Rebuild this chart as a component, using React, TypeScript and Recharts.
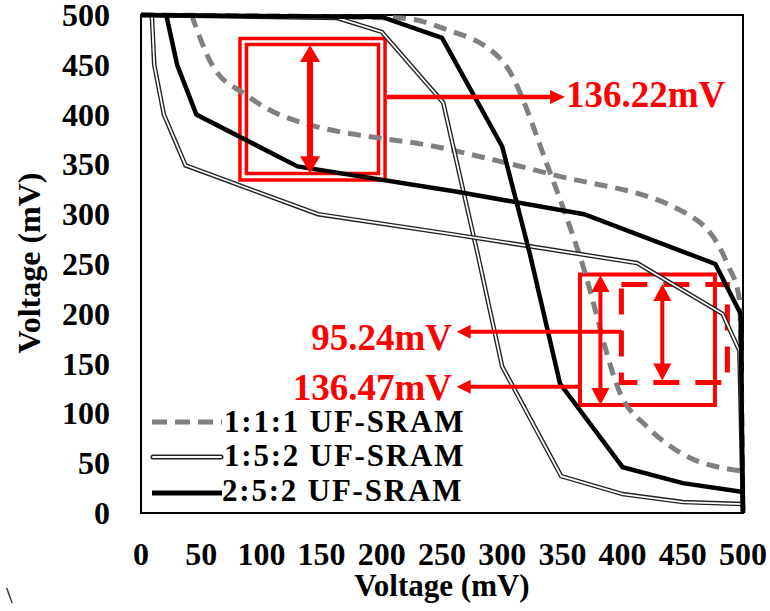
import React from 'react';
import { LineChart, Line, XAxis, YAxis, ReferenceArea, ReferenceLine } from 'recharts';

// axis ticks (mV)
const ticks = [0, 50, 100, 150, 200, 250, 300, 350, 400, 450, 500];

// transfer curve of one inverter per cell: input (mV) -> output (mV)
// the second inverter of the butterfly is the same curve mirrored about y = x
const vin111 = [0, 215, 250, 300, 340, 365, 400, 420, 450, 500];
const vout111 = [500, 497, 487, 454, 341, 256, 115, 87, 59, 42];
const vin152 = [0, 163, 200, 251, 280, 300, 349, 400, 450, 500];
const vout152 = [500, 497, 483, 412, 258, 147, 37, 19, 11, 9];
const vin252 = [0, 200, 250, 300, 323, 348, 400, 450, 500];
const vout252 = [500, 498, 477, 368, 260, 130, 46, 30, 21];

const curve = (vin: number[], vout: number[]) => vin.map((x, i) => ({ x, y: vout[i] }));
const mirror = (vin: number[], vout: number[]) =>
  vin.map((v, i) => ({ x: vout[i], y: v })).sort((a, b) => a.x - b.x);

const RED = '#ff0000';
const FONT = "'Liberation Serif', 'Times New Roman', serif";

// double-headed / single arrow drawn between the reference segment end points
function arrowShape(hw: number, hl: number, sw: number, both: boolean) {
  return (p: any) => {
    const { x1, y1, x2, y2 } = p;
    const dx = x2 - x1;
    const dy = y2 - y1;
    const len = Math.hypot(dx, dy) || 1;
    const ux = dx / len;
    const uy = dy / len;
    const nx = -uy;
    const ny = ux;
    const head = (tx: number, ty: number, dx1: number, dy1: number) => {
      const bx = tx - dx1 * hl;
      const by = ty - dy1 * hl;
      return `${tx},${ty} ${bx + nx * hw / 2},${by + ny * hw / 2} ${bx - nx * hw / 2},${by - ny * hw / 2}`;
    };
    const sx = both ? x1 + ux * hl * 0.8 : x1;
    const sy = both ? y1 + uy * hl * 0.8 : y1;
    return (
      <g>
        <line x1={sx} y1={sy} x2={x2 - ux * hl * 0.8} y2={y2 - uy * hl * 0.8} stroke={RED} strokeWidth={sw} />
        <polygon points={head(x2, y2, ux, uy)} fill={RED} />
        {both && <polygon points={head(x1, y1, -ux, -uy)} fill={RED} />}
      </g>
    );
  };
}

const XTick = ({ x, y, payload }: any) => (
  <text x={x} y={y} dy={22} textAnchor="middle" fontFamily={FONT} fontWeight={700} fontSize={32} fill="#000">
    {payload.value}
  </text>
);

const YTick = ({ x, y, payload }: any) => (
  <text x={x} y={y} dy={11} textAnchor="end" fontFamily={FONT} fontWeight={700} fontSize={32} fill="#000">
    {payload.value}
  </text>
);

export default function App() {
  return (
    <div style={{ position: 'absolute', left: 0, top: 0, width: 770, height: 611, background: '#fff', fontFamily: FONT }}>
      <LineChart width={770} height={611} margin={{ top: 15, right: 27, bottom: 38, left: 0 }} style={{ fontFamily: FONT }}>
        <XAxis
          type="number"
          dataKey="x"
          domain={[0, 500]}
          ticks={ticks}
          interval={0}
          tick={<XTick />}
          tickSize={0}
          tickMargin={30}
          axisLine={false}
          height={60}
        />
        <YAxis
          type="number"
          dataKey="y"
          domain={[0, 500]}
          ticks={ticks}
          interval={0}
          tick={<YTick />}
          tickSize={0}
          tickMargin={31}
          axisLine={false}
          width={141}
        />
        <ReferenceArea x1={0} x2={500} y1={0} y2={500} fill="none" stroke="#000" strokeWidth={2} />

        {/* 1:1:1 UF-SRAM */}
        <Line data={curve(vin111, vout111)} dataKey="y" type="monotone" stroke="#808080" strokeWidth={5} strokeDasharray="13 8" dot={false} isAnimationActive={false} />
        <Line data={mirror(vin111, vout111)} dataKey="y" type="monotone" stroke="#808080" strokeWidth={5} strokeDasharray="13 8" dot={false} isAnimationActive={false} />

        {/* 1:5:2 UF-SRAM (double line) */}
        <Line data={curve(vin152, vout152)} dataKey="y" type="linear" stroke="#222" strokeWidth={4.5} dot={false} isAnimationActive={false} />
        <Line data={curve(vin152, vout152)} dataKey="y" type="linear" stroke="#fff" strokeWidth={1.8} dot={false} isAnimationActive={false} />
        <Line data={mirror(vin152, vout152)} dataKey="y" type="linear" stroke="#222" strokeWidth={4.5} dot={false} isAnimationActive={false} />
        <Line data={mirror(vin152, vout152)} dataKey="y" type="linear" stroke="#fff" strokeWidth={1.8} dot={false} isAnimationActive={false} />

        {/* 2:5:2 UF-SRAM */}
        <Line data={curve(vin252, vout252)} dataKey="y" type="linear" stroke="#000" strokeWidth={4.5} dot={false} isAnimationActive={false} />
        <Line data={mirror(vin252, vout252)} dataKey="y" type="linear" stroke="#000" strokeWidth={4.5} dot={false} isAnimationActive={false} />

        {/* noise margin boxes */}
        <ReferenceArea x1={82.2} x2={202.7} y1={334.3} y2={476.4} fill="none" stroke={RED} strokeWidth={3.5} />
        <ReferenceArea x1={87.6} x2={197.3} y1={340.9} y2={470.4} fill="none" stroke={RED} strokeWidth={3.5} />
        <ReferenceArea x1={364.6} x2={476.7} y1={108.4} y2={239.5} fill="none" stroke={RED} strokeWidth={4} />
        <ReferenceArea x1={399} x2={487} y1={131} y2={229.4} fill="none" stroke={RED} strokeWidth={5} strokeDasharray="26 16" />

        <ReferenceLine segment={[{ x: 140.4, y: 341 }, { x: 140.4, y: 470 }]} stroke={RED} shape={arrowShape(20, 17, 6, true)} />
        <ReferenceLine segment={[{ x: 204.3, y: 417.7 }, { x: 352.2, y: 417.7 }]} stroke={RED} shape={arrowShape(14, 15, 4.5, false)} />
        <ReferenceLine segment={[{ x: 381.6, y: 108.4 }, { x: 381.6, y: 239 }]} stroke={RED} shape={arrowShape(18, 17, 4, true)} />
        <ReferenceLine segment={[{ x: 433, y: 133 }, { x: 433, y: 230 }]} stroke={RED} shape={arrowShape(18, 17, 4, true)} />
        <ReferenceLine segment={[{ x: 399, y: 182 }, { x: 262.2, y: 182 }]} stroke={RED} shape={arrowShape(14, 14, 4, false)} />
        <ReferenceLine segment={[{ x: 364.6, y: 126.8 }, { x: 262.2, y: 126.8 }]} stroke={RED} shape={arrowShape(14, 14, 4, false)} />
      </LineChart>

      <svg width={770} height={611} style={{ position: 'absolute', left: 0, top: 0, pointerEvents: 'none' }}>
        <g fontFamily={FONT} fontWeight={700}>
          <text x={566} y={107} fontSize={37} fill={RED}>136.22mV</text>
          <text x={452} y={350} fontSize={37} fill={RED} textAnchor="end">95.24mV</text>
          <text x={452} y={400} fontSize={37} fill={RED} textAnchor="end">136.47mV</text>

          <text x={442} y={596} fontSize={31} textAnchor="middle">Voltage (mV)</text>
          <text x={40} y={263} fontSize={32} textAnchor="middle" transform="rotate(-90, 40, 263)">Voltage (mV)</text>

          {/* legend */}
          <line x1={152} y1={422} x2={222} y2={422} stroke="#808080" strokeWidth={5} strokeDasharray="15 8" />
          <text x={224} y={432} fontSize={31} letterSpacing={1.8}>1:1:1 UF-SRAM</text>
          <line x1={153} y1={457} x2={221} y2={457} stroke="#222" strokeWidth={5} strokeLinecap="round" />
          <line x1={153} y1={457} x2={221} y2={457} stroke="#fff" strokeWidth={2} strokeLinecap="round" />
          <text x={224} y={466} fontSize={31} letterSpacing={1.8}>1:5:2 UF-SRAM</text>
          <line x1={152} y1={493} x2={222} y2={493} stroke="#000" strokeWidth={5} />
          <text x={222} y={501} fontSize={31} letterSpacing={1.8}>2:5:2 UF-SRAM</text>
        </g>
        <text x={6} y={603} fontSize={24} fontFamily={FONT}>\</text>
      </svg>
    </div>
  );
}
